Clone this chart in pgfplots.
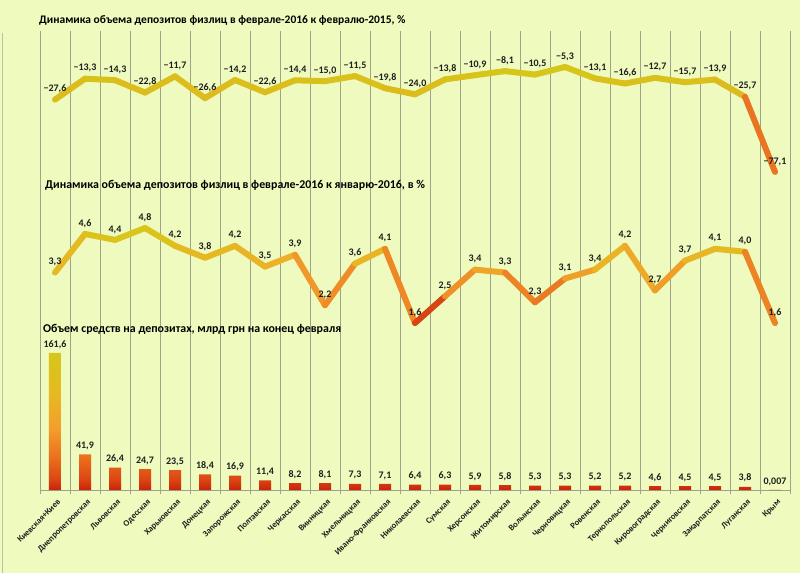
\documentclass[border=0pt]{standalone}
\usepackage{fontspec}
\setmainfont{Carlito}
\usepackage{pgfplots}
\pgfplotsset{compat=1.18}
\usepackage{pgfplotstable}

\definecolor{bg}{RGB}{238,250,190}
\definecolor{gridc}{RGB}{160,162,140}
\definecolor{labtext}{RGB}{30,30,30}
\definecolor{bs0}{RGB}{200,35,10}
\definecolor{bs1}{RGB}{220,70,20}
\definecolor{bs2}{RGB}{235,115,30}
\definecolor{bs3}{RGB}{243,158,45}
\definecolor{bs4}{RGB}{230,185,35}
\definecolor{bs5}{RGB}{214,198,25}
\pgfdeclareverticalshading{barshade}{100bp}{color(0bp)=(bs0); color(25bp)=(bs0); color(29bp)=(bs1); color(37.5bp)=(bs2); color(47.5bp)=(bs3); color(60bp)=(bs4); color(75bp)=(bs5); color(100bp)=(bs5)}

\pgfplotsset{
  colormap={topmap}{rgb255(0cm)=(195,35,10); rgb255(2.7cm)=(235,120,35); rgb255(4.7cm)=(225,180,30); rgb255(7.2cm)=(213,200,25)},
  colormap={midmap}{rgb255(0cm)=(200,40,10); rgb255(0.7cm)=(225,85,25); rgb255(1.4cm)=(240,150,40); rgb255(2.0cm)=(238,175,40); rgb255(2.6cm)=(225,190,30); rgb255(3.2cm)=(215,200,25)},
}

\pgfplotstableread{
x yoy yoyl mom moml dep depl
0 -27.6 −27,6 3.3 3,3 161.6 161,6
1 -13.3 −13,3 4.6 4,6 41.9 41,9
2 -14.3 −14,3 4.4 4,4 26.4 26,4
3 -22.8 −22,8 4.8 4,8 24.7 24,7
4 -11.7 −11,7 4.2 4,2 23.5 23,5
5 -26.6 −26,6 3.8 3,8 18.4 18,4
6 -14.2 −14,2 4.2 4,2 16.9 16,9
7 -22.6 −22,6 3.5 3,5 11.4 11,4
8 -14.4 −14,4 3.9 3,9 8.2 8,2
9 -15.0 −15,0 2.2 2,2 8.1 8,1
10 -11.5 −11,5 3.6 3,6 7.3 7,3
11 -19.8 −19,8 4.1 4,1 7.1 7,1
12 -24.0 −24,0 1.6 1,6 6.4 6,4
13 -13.8 −13,8 2.5 2,5 6.3 6,3
14 -10.9 −10,9 3.4 3,4 5.9 5,9
15 -8.1 −8,1 3.3 3,3 5.8 5,8
16 -10.5 −10,5 2.3 2,3 5.3 5,3
17 -5.3 −5,3 3.1 3,1 5.3 5,3
18 -13.1 −13,1 3.4 3,4 5.2 5,2
19 -16.6 −16,6 4.2 4,2 5.2 5,2
20 -12.7 −12,7 2.7 2,7 4.6 4,6
21 -15.7 −15,7 3.7 3,7 4.5 4,5
22 -13.9 −13,9 4.1 4,1 4.5 4,5
23 -25.7 −25,7 4.0 4,0 3.8 3,8
24 -77.1 −77,1 1.6 1,6 0.007 0,007
}\data

\begin{document}
\begin{tikzpicture}[x=1pt,y=1pt]
\useasboundingbox (0,0) rectangle (800,573);
\fill[bg] (0,0) rectangle (800,573);
\draw[gridc!70, line width=0.6pt] (2.5,0) -- (2.5,540);

% bar chart (also carries the vertical grid)
\begin{axis}[
  at={(40pt,83pt)}, anchor=south west, scale only axis,
  width=750pt, height=459pt,
  xmin=-0.5, xmax=24.5, ymin=0, ymax=541.3,
  axis x line*=bottom, axis y line=none,
  x axis line style={draw=gridc, line width=0.8pt},
  xtick={0,...,24},
  xticklabels={Киевская+Киев,Днепропетровская,Львовская,Одесская,Харьковская,Донецкая,Запорожская,Полтавская,Черкасская,Винницкая,Хмельницкая,Ивано-Франковская,Николаевская,Сумская,Херсонская,Житомирская,Волынская,Черновицкая,Ровенская,Тернопольская,Кировоградская,Черниговская,Закарпатская,Луганская,Крым},
  major tick length=0pt,
  minor xtick={-0.5,0.5,...,24.5},
  minor tick length=4pt, tick align=outside,
  tick style={draw=gridc, line width=0.8pt},
  xminorgrids, minor grid style={draw=gridc, line width=0.8pt},
  xticklabel style={yshift=-7pt, xshift=2pt, rotate=45, anchor=north east, font=\bfseries\fontsize{8.6}{10}\selectfont, text=labtext, inner sep=1pt},
  ybar, bar width=12pt,
  nodes near coords, point meta=explicit symbolic,
  every node near coord/.append style={font=\bfseries\fontsize{10}{12}\selectfont, text=labtext, yshift=1pt},
  clip=false,
]
\addplot[draw=none, shade, shading=barshade] table[x=x, y=dep, meta=depl]{\data};
\end{axis}

% top line chart
\begin{axis}[
  at={(40pt,388pt)}, anchor=south west, scale only axis,
  width=750pt, height=154pt,
  xmin=-0.5, xmax=24.5, ymin=-86.01, ymax=19.32,
  hide axis, clip=false, colormap name=topmap,
  point meta min=-77.1, point meta max=-5.3,
]
\addplot[mesh, point meta=y, line width=6pt, line cap=round] table[x=x, y=yoy]{\data};
\addplot[draw=none, nodes near coords, point meta=explicit symbolic,
  every node near coord/.append style={font=\bfseries\fontsize{10}{12}\selectfont, text=labtext, yshift=3pt}]
  table[x=x, y=yoy, meta=yoyl]{\data};
\end{axis}

% middle line chart
\begin{axis}[
  at={(40pt,233pt)}, anchor=south west, scale only axis,
  width=750pt, height=150pt,
  xmin=-0.5, xmax=24.5, ymin=1.03, ymax=6.08,
  hide axis, clip=false, colormap name=midmap,
  point meta min=1.6, point meta max=4.8,
]
\addplot[mesh, point meta=y, line width=6pt, line cap=round] table[x=x, y=mom]{\data};
\addplot[draw=none, nodes near coords, point meta=explicit symbolic,
  every node near coord/.append style={font=\bfseries\fontsize{10}{12}\selectfont, text=labtext, yshift=3pt}]
  table[x=x, y=mom, meta=moml]{\data};
\end{axis}

\node[anchor=west, inner sep=0pt, font=\bfseries\fontsize{11.5}{13}\selectfont] at (39,553) {Динамика объема депозитов физлиц в феврале-2016 к февралю-2015, \%};
\node[anchor=west, inner sep=0pt, font=\bfseries\fontsize{11.9}{13}\selectfont] at (45,388) {Динамика объема депозитов физлиц в феврале-2016 к январю-2016, в \%};
\node[anchor=west, inner sep=0pt, font=\bfseries\fontsize{11.9}{13}\selectfont] at (43,244) {Объем средств на депозитах, млрд грн на конец февраля};
\end{tikzpicture}
\end{document}
